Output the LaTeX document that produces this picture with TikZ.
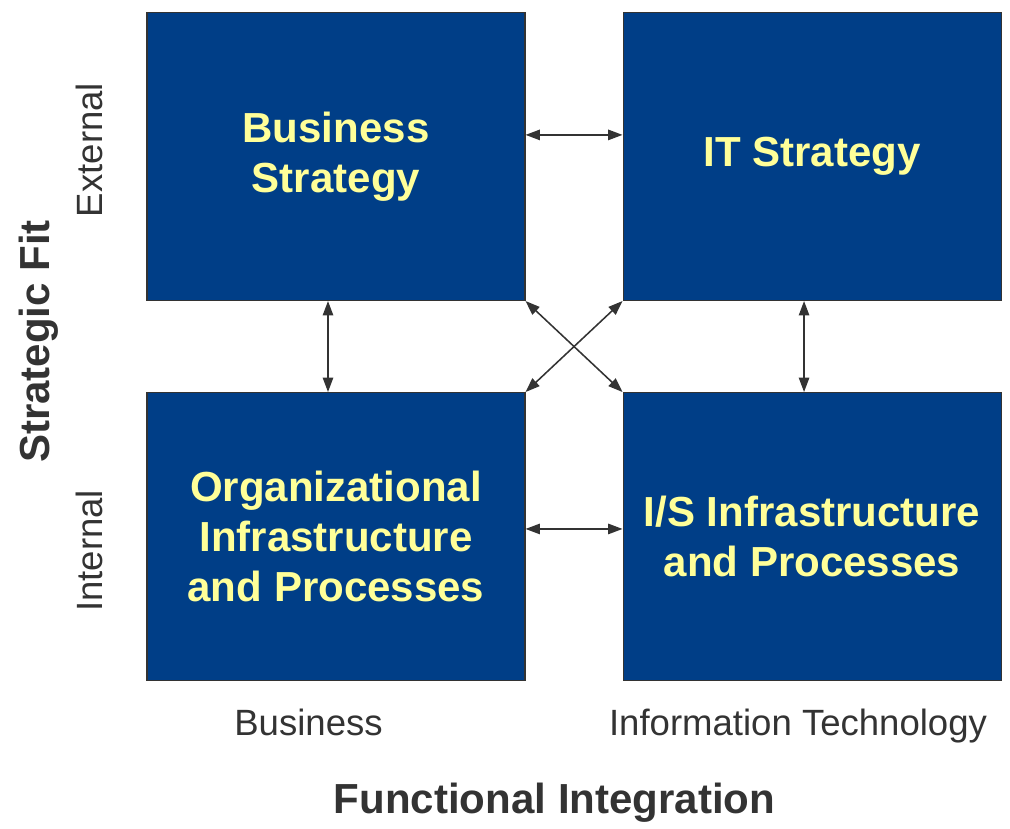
\documentclass[tikz,border=0pt]{standalone}
\usepackage{fontspec}
\setmainfont{Liberation Sans}
\definecolor{navyfill}{RGB}{0, 62, 135}
\definecolor{paleyellow}{RGB}{255, 255, 153}
\definecolor{darkgray}{RGB}{51, 51, 51}
\usetikzlibrary{arrows.meta, positioning}
\tikzset{
  quadbox/.style={rectangle, draw=darkgray, fill=navyfill, line width=0.75pt, minimum width=9.45cm, minimum height=7.2cm, inner sep=0pt, align=center, text=paleyellow, font=\fontsize{29.9}{35.6}\selectfont\bfseries},
  axistitle/.style={text=darkgray, inner sep=0pt, font=\fontsize{29.9}{35.6}\selectfont\bfseries},
  axislabel/.style={text=darkgray, inner sep=0pt, font=\fontsize{26}{31}\selectfont},
  fitarrow/.style={draw=darkgray, line width=1.1pt, {Triangle[length=0.36cm,width=0.26cm]}-{Triangle[length=0.36cm,width=0.26cm]}},
}

\begin{document}
\begin{tikzpicture}[node distance=2.275cm and 2.425cm]
\useasboundingbox (0,0) rectangle (25.25,-20.725);
% the four domains
\node[quadbox] (bizstrat) at (8.4,-3.9125) {Business\\Strategy};
\node[quadbox, right=of bizstrat] (itstrat) {IT Strategy};
\node[quadbox, below=of bizstrat] (orginfra) {Organizational\\Infrastructure\\and Processes};
\node[quadbox, below=of itstrat] (isinfra) {I/S Infrastructure\\and Processes};
% alignment arrows
\draw[fitarrow] ([yshift=0.54cm]bizstrat.east) -- ([yshift=0.54cm]itstrat.west);
\draw[fitarrow] ([yshift=0.19cm]orginfra.east) -- ([yshift=0.19cm]isinfra.west);
\draw[fitarrow] ([xshift=-0.2cm]bizstrat.south) -- ([xshift=-0.2cm]orginfra.north);
\draw[fitarrow] ([xshift=-0.2cm]itstrat.south) -- ([xshift=-0.2cm]isinfra.north);
\draw[fitarrow] (bizstrat.south east) -- (isinfra.north west);
\draw[fitarrow] (itstrat.south west) -- (orginfra.north east);
% axes
\node[axislabel, rotate=90, anchor=base] (external) at (2.55,-3.75) {External};
\node[axislabel, rotate=90, anchor=base] (internal) at (2.55,-13.775) {Internal};
\node[axistitle, rotate=90, anchor=base] (stratfit) at (1.25,-8.5375) {Strategic Fit};
\node[axislabel, anchor=base] (business) at (7.7125,-18.375) {Business};
\node[axislabel, anchor=base] (infotech) at (19.95,-18.375) {Information Technology};
\node[axistitle, anchor=base] (funcint) at (13.8625,-20.325) {Functional Integration};
\end{tikzpicture}
\end{document}
